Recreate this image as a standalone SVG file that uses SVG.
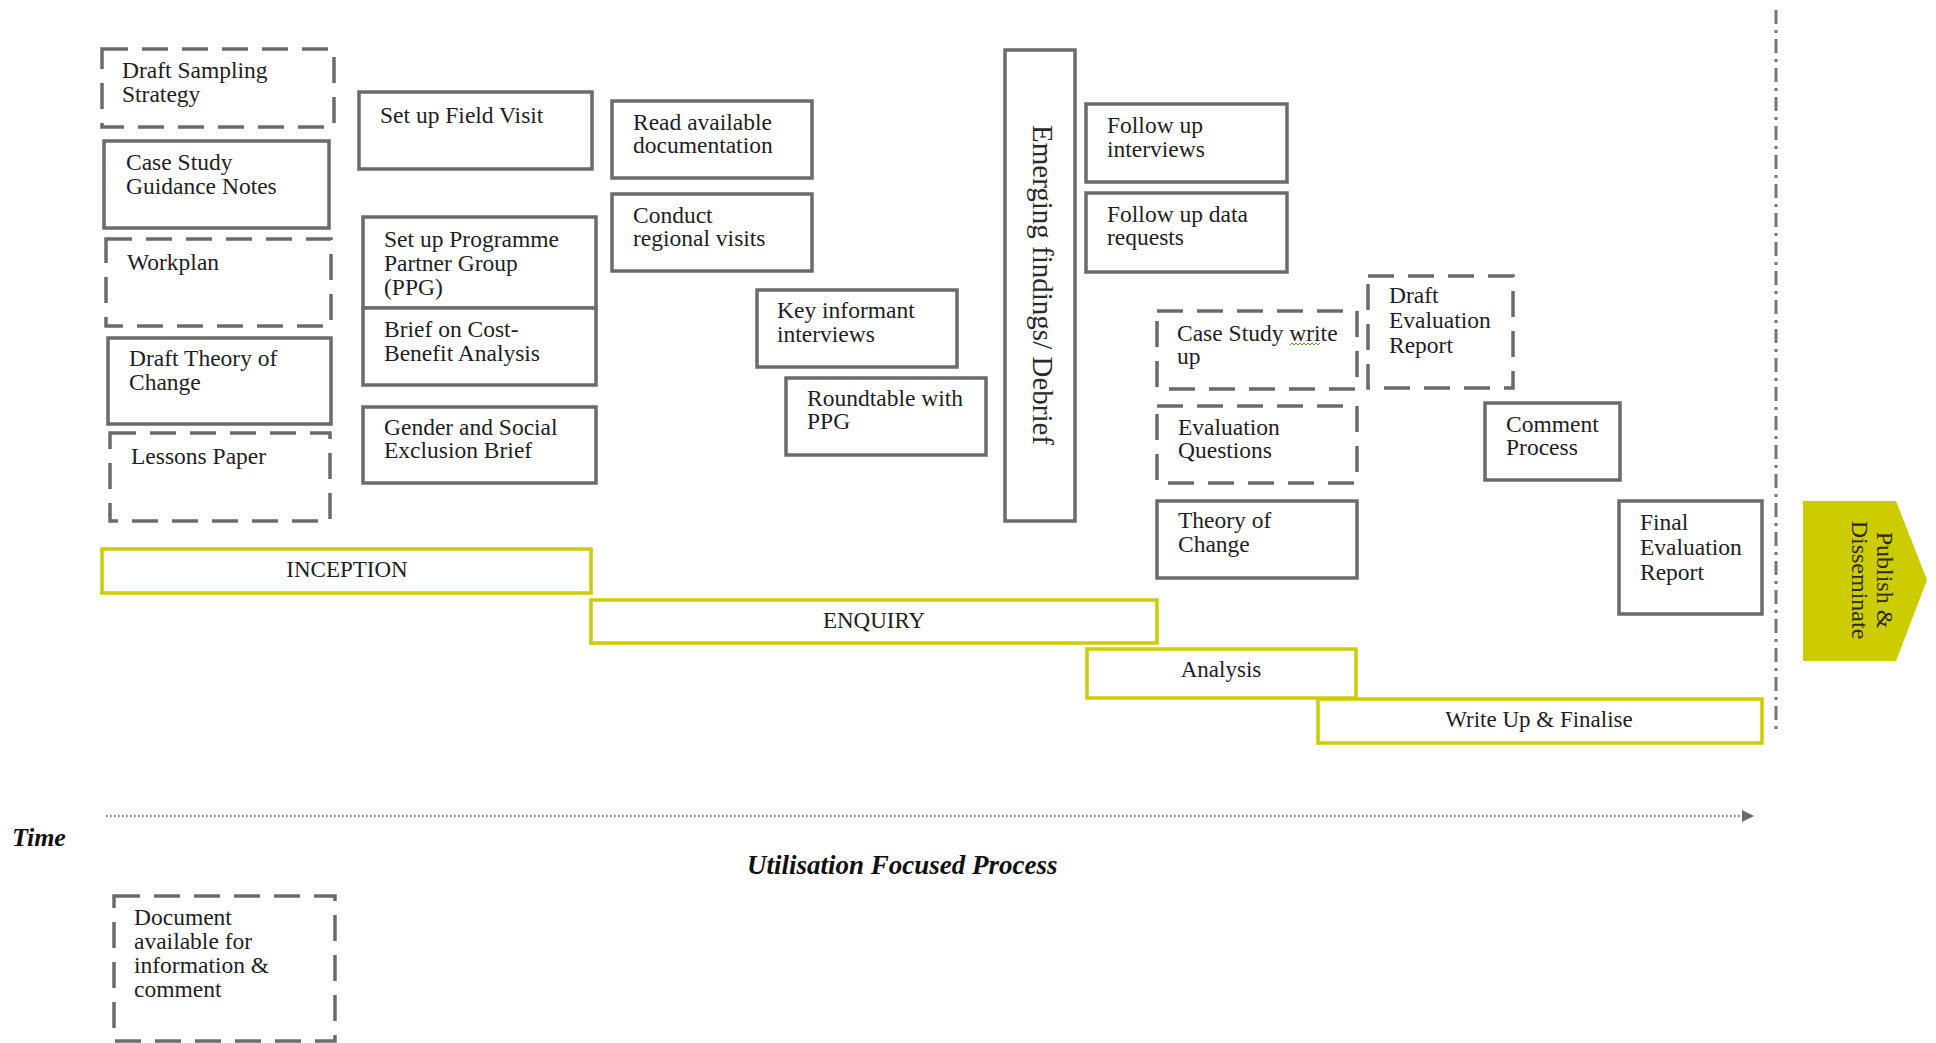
<svg xmlns="http://www.w3.org/2000/svg" width="1936" height="1043" viewBox="0 0 1936 1043">
<defs>
<style>
.box{fill:#fff;stroke:#6b6b6b;stroke-width:3.5}
.dash{fill:#fff;stroke:#6b6b6b;stroke-width:3.5;stroke-dasharray:26 14}
.bar{fill:#fff;stroke:#cccc00;stroke-width:3.5}
.t{font-family:"Liberation Serif","Times New Roman",serif;font-size:23.5px;fill:#1e1e24}
.bt{font-family:"Liberation Serif","Times New Roman",serif;font-size:23px;fill:#1e1e24;text-anchor:middle}
.it{font-family:"Liberation Serif","Times New Roman",serif;font-weight:bold;font-style:italic;fill:#111}
</style>
<marker id="arr" markerWidth="12" markerHeight="12" refX="10" refY="6" orient="auto" markerUnits="userSpaceOnUse">
<path d="M0,0 L12,6 L0,12 Z" fill="#6b6b6b"/>
</marker>
</defs>
<rect width="1936" height="1043" fill="#fff"/>

<g id="connectors">
<line x1="106" y1="816" x2="1752" y2="816" stroke="#7a7a7a" stroke-width="2.5" stroke-dasharray="1.5 2.5" marker-end="url(#arr)"/>
<line x1="1776" y1="10" x2="1776" y2="735" stroke="#777" stroke-width="3" stroke-dasharray="14 6 3 6"/>
</g>

<g id="draft-sampling"><rect class="dash" x="102" y="49" width="232" height="78"/><text class="t" x="122" y="78">Draft Sampling<tspan x="122" dy="24">Strategy</tspan></text></g>
<g id="case-study-guidance"><rect class="box" x="104" y="141" width="225" height="87"/><text class="t" x="126" y="170">Case Study<tspan x="126" dy="24">Guidance Notes</tspan></text></g>
<g id="workplan"><rect class="dash" x="106" y="239" width="225" height="87"/><text class="t" x="127" y="270">Workplan</text></g>
<g id="draft-toc"><rect class="box" x="108" y="338" width="223" height="86"/><text class="t" x="129" y="366">Draft Theory of<tspan x="129" dy="24">Change</tspan></text></g>
<g id="lessons-paper"><rect class="dash" x="110" y="433" width="220" height="88"/><text class="t" x="131" y="464">Lessons Paper</text></g>

<g id="field-visit"><rect class="box" x="359" y="92" width="233" height="77"/><text class="t" x="380" y="123">Set up Field Visit</text></g>
<g id="ppg"><rect class="box" x="363" y="217" width="233" height="91"/><text class="t" x="384" y="247">Set up Programme<tspan x="384" dy="24">Partner Group</tspan><tspan x="384" dy="24">(PPG)</tspan></text></g>
<g id="cost-benefit"><rect class="box" x="363" y="308" width="233" height="77"/><text class="t" x="384" y="337">Brief on Cost-<tspan x="384" dy="24">Benefit Analysis</tspan></text></g>
<g id="gender-brief"><rect class="box" x="363" y="407" width="233" height="76"/><text class="t" x="384" y="435">Gender and Social<tspan x="384" dy="23">Exclusion Brief</tspan></text></g>

<g id="read-docs"><rect class="box" x="612" y="101" width="200" height="77"/><text class="t" x="633" y="130">Read available<tspan x="633" dy="23">documentation</tspan></text></g>
<g id="regional-visits"><rect class="box" x="612" y="194" width="200" height="77"/><text class="t" x="633" y="223">Conduct<tspan x="633" dy="23">regional visits</tspan></text></g>
<g id="key-informant"><rect class="box" x="757" y="290" width="200" height="77"/><text class="t" x="777" y="318">Key informant<tspan x="777" dy="24">interviews</tspan></text></g>
<g id="roundtable"><rect class="box" x="786" y="378" width="200" height="77"/><text class="t" x="807" y="406">Roundtable with<tspan x="807" dy="23">PPG</tspan></text></g>

<g id="emerging-findings"><rect class="box" x="1005" y="50" width="70" height="471"/><text transform="translate(1033,285) rotate(90)" text-anchor="middle" x="0" y="0" style="font-family:'Liberation Serif','Times New Roman',serif;font-size:29px;fill:#2a2a2a">Emerging findings/ Debrief</text></g>

<g id="follow-interviews"><rect class="box" x="1086" y="104" width="201" height="78"/><text class="t" x="1107" y="133">Follow up<tspan x="1107" dy="24">interviews</tspan></text></g>
<g id="follow-data"><rect class="box" x="1086" y="193" width="201" height="79"/><text class="t" x="1107" y="222">Follow up data<tspan x="1107" dy="23">requests</tspan></text></g>
<g id="case-writeup"><rect class="dash" x="1157" y="311" width="200" height="78"/><text class="t" x="1177" y="341">Case Study write<tspan x="1177" dy="23">up</tspan></text><polyline points="1290,345 1292,343 1294,345 1296,343 1298,345 1300,343 1302,345 1304,343 1306,345 1308,343 1310,345 1312,343 1314,345 1316,343 1318,345 1320,343" fill="none" stroke="#5aa02c" stroke-width="1"/></g>
<g id="eval-questions"><rect class="dash" x="1157" y="406" width="200" height="77"/><text class="t" x="1178" y="435">Evaluation<tspan x="1178" dy="23">Questions</tspan></text></g>
<g id="toc"><rect class="box" x="1157" y="501" width="200" height="77"/><text class="t" x="1178" y="528">Theory of<tspan x="1178" dy="24">Change</tspan></text></g>
<g id="draft-report"><rect class="dash" x="1368" y="276" width="145" height="112"/><text class="t" x="1389" y="303">Draft<tspan x="1389" dy="25">Evaluation</tspan><tspan x="1389" dy="25">Report</tspan></text></g>
<g id="comment-process"><rect class="box" x="1485" y="403" width="135" height="77"/><text class="t" x="1506" y="432">Comment<tspan x="1506" dy="23">Process</tspan></text></g>
<g id="final-report"><rect class="box" x="1619" y="501" width="143" height="113"/><text class="t" x="1640" y="530">Final<tspan x="1640" dy="25">Evaluation</tspan><tspan x="1640" dy="25">Report</tspan></text></g>

<g id="inception"><rect class="bar" x="102" y="549" width="489" height="44"/><text class="bt" x="347" y="577">INCEPTION</text></g>
<g id="enquiry"><rect class="bar" x="591" y="600" width="566" height="43"/><text class="bt" x="874" y="628">ENQUIRY</text></g>
<g id="analysis"><rect class="bar" x="1087" y="649" width="269" height="49"/><text class="bt" x="1221" y="677">Analysis</text></g>
<g id="writeup"><rect class="bar" x="1318" y="699" width="444" height="44"/><text class="bt" x="1539" y="727">Write Up &amp; Finalise</text></g>

<g id="publish"><polygon points="1803,501 1896,501 1927,580 1896,661 1803,661" fill="#cccc00"/><text transform="translate(1877,580) rotate(90)" text-anchor="middle" style="font-family:'Liberation Serif','Times New Roman',serif;font-size:24px;fill:#2a2a10"><tspan x="0" y="0">Publish &amp;</tspan><tspan x="0" y="25">Disseminate</tspan></text></g>

<g id="time-label"><text class="it" x="12" y="846" style="font-size:26px">Time</text></g>
<g id="utilisation-label"><text class="it" x="747" y="874" style="font-size:27px">Utilisation Focused Process</text></g>

<g id="document-available"><rect class="dash" x="114" y="896" width="221" height="145"/><text class="t" x="134" y="925">Document<tspan x="134" dy="24">available for</tspan><tspan x="134" dy="24">information &amp;</tspan><tspan x="134" dy="24">comment</tspan></text></g>
</svg>
